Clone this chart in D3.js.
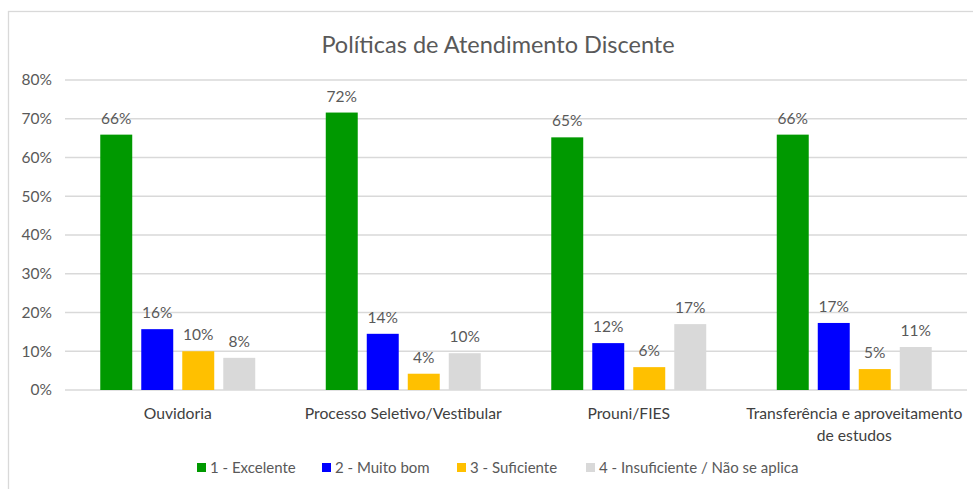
<!DOCTYPE html>
<html>
<head>
<meta charset="utf-8">
<script src="https://cdn.jsdelivr.net/npm/d3@7"></script>
<style>
  body { margin: 0; background: #fff; }
  text { font-family: Lato, "Open Sans", sans-serif; }
</style>
</head>
<body>
<div id="chart"></div>
<script>
// data
var categories = ["Ouvidoria", "Processo Seletivo/Vestibular", "Prouni/FIES", "Transferência e aproveitamento de estudos"];
var seriesNames = ["1 - Excelente", "2 - Muito bom", "3 - Suficiente", "4 - Insuficiente / Não se aplica"];
var seriesColors = ["#009900", "#0000ff", "#ffc000", "#d9d9d9"];
var excelente = [0.659, 0.716, 0.652, 0.659];
var muitoBom = [0.157, 0.145, 0.121, 0.173];
var suficiente = [0.100, 0.042, 0.059, 0.054];
var insuficiente = [0.083, 0.095, 0.170, 0.111];
var yTicks = [0, 0.1, 0.2, 0.3, 0.4, 0.5, 0.6, 0.7, 0.8];
var chartTitle = "Políticas de Atendimento Discente";

var allSeries = [excelente, muitoBom, suficiente, insuficiente];

var wdth = 973, hght = 489;
var margin = {top: 80, right: 6, bottom: 99, left: 65},
    width = wdth - margin.left - margin.right,
    height = hght - margin.top - margin.bottom;

var svg = d3.select("#chart")
  .append("svg")
    .attr("width", wdth)
    .attr("height", hght);

// outer chart border
svg.append("rect")
  .attr("x", 8.5).attr("y", 11.5)
  .attr("width", 990).attr("height", 500)
  .attr("fill", "none")
  .attr("stroke", "#d9d9d9")
  .attr("stroke-width", 1.3);

svg.append("text")
  .attr("x", 498).attr("y", 53)
  .attr("text-anchor", "middle")
  .attr("font-size", 23.5)
  .attr("fill", "#595959")
  .text(chartTitle);

var g = svg.append("g")
  .attr("transform", "translate(" + margin.left + "," + margin.top + ")");

var x0 = d3.scaleBand()
  .domain(categories)
  .range([0, width])
  .padding(0);

var x1 = d3.scaleBand()
  .domain(d3.range(seriesNames.length))
  .range([0, x0.bandwidth()])
  .paddingInner(0.22)
  .paddingOuter(0.86);

var y = d3.scaleLinear()
  .domain([0, 0.8])
  .range([height, 0]);

// gridlines
g.selectAll(".grid")
  .data(yTicks)
  .enter()
  .append("line")
    .attr("x1", 0).attr("x2", width)
    .attr("y1", function(d){ return y(d) })
    .attr("y2", function(d){ return y(d) })
    .attr("stroke", "#d9d9d9")
    .attr("stroke-width", 1.3);

var yAxis = g.append("g")
  .call(d3.axisLeft(y).tickValues(yTicks).tickFormat(d3.format(".0%")).tickSize(0).tickPadding(13));
yAxis.select(".domain").remove();
yAxis.selectAll("text")
  .attr("font-family", "Lato, 'Open Sans', sans-serif")
  .attr("font-size", 15.5)
  .attr("fill", "#595959");

// bars
var groups = g.selectAll(".cat")
  .data(categories)
  .enter()
  .append("g")
    .attr("transform", function(d){ return "translate(" + x0(d) + ",0)" });

groups.each(function(cat, ci){
  var grp = d3.select(this);
  var vals = allSeries.map(function(s, si){ return {si: si, v: s[ci]} });
  grp.selectAll("rect")
    .data(vals)
    .enter()
    .append("rect")
      .attr("x", function(d){ return x1(d.si) })
      .attr("y", function(d){ return y(d.v) })
      .attr("width", x1.bandwidth())
      .attr("height", function(d){ return height - y(d.v) })
      .attr("fill", function(d){ return seriesColors[d.si] });
  grp.selectAll(".lbl")
    .data(vals)
    .enter()
    .append("text")
      .attr("x", function(d){ return x1(d.si) + x1.bandwidth()/2 })
      .attr("y", function(d){ return y(d.v) - 11 })
      .attr("text-anchor", "middle")
      .attr("font-size", 15.5)
      .attr("fill", "#595959")
      .text(function(d){ return Math.round(d.v*100) + "%" });
});

// category labels, wrapped like excel does
var catLines = {
  "Transferência e aproveitamento de estudos": ["Transferência e aproveitamento", "de estudos"]
};
categories.forEach(function(c){
  var lines = catLines[c] || [c];
  var t = g.append("text")
    .attr("text-anchor", "middle")
    .attr("font-size", 15.7)
    .attr("fill", "#404040");
  lines.forEach(function(l, i){
    t.append("tspan")
      .attr("x", x0(c) + x0.bandwidth()/2)
      .attr("y", height + 29 + i*22)
      .text(l);
  });
});

// legend
var legendX = [197, 322, 457, 586];
var legend = svg.selectAll(".leg")
  .data(seriesNames)
  .enter()
  .append("g")
    .attr("transform", function(d, i){ return "translate(" + legendX[i] + ",468)" });
legend.append("rect")
  .attr("x", 0).attr("y", -5)
  .attr("width", 9).attr("height", 9)
  .attr("fill", function(d, i){ return seriesColors[i] });
legend.append("text")
  .attr("x", 13).attr("y", 5)
  .attr("font-size", 15)
  .attr("fill", "#595959")
  .text(function(d){ return d });
</script>
</body>
</html>
